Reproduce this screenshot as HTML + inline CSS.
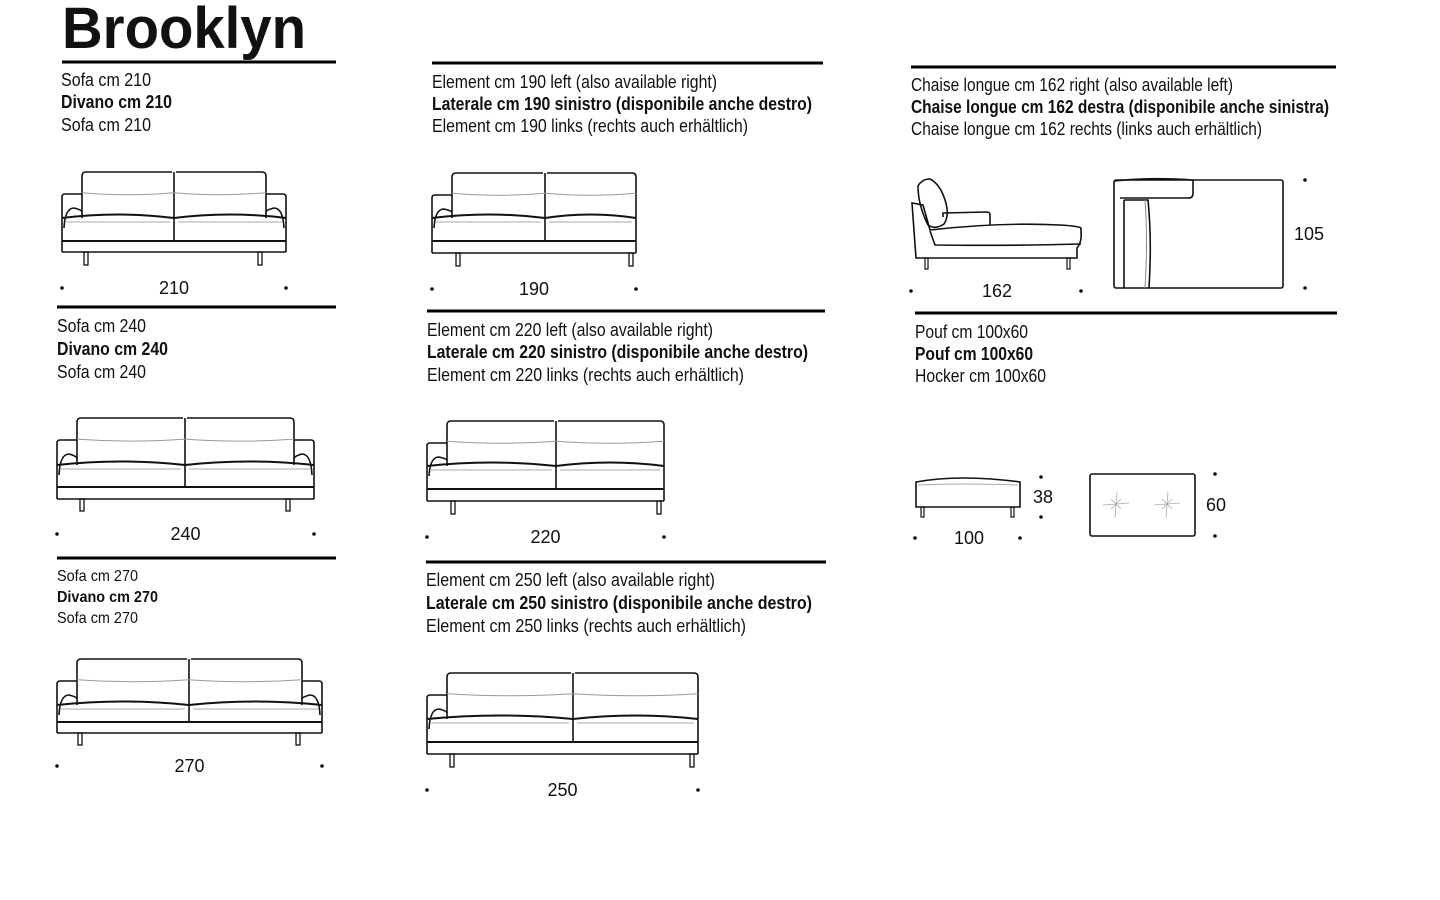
<!DOCTYPE html>
<html><head><meta charset="utf-8"><style>
html,body{margin:0;padding:0;background:#fff;width:1440px;height:900px;overflow:hidden}
svg{display:block}
text{font-family:"Liberation Sans Narrow","Liberation Sans",sans-serif;fill:#111}
</style></head><body>
<svg id="s" width="1440" height="900" viewBox="0 0 1440 900" xmlns="http://www.w3.org/2000/svg">
<text x="62" y="48" font-size="58" font-weight="bold" font-family="Liberation Sans" textLength="244" lengthAdjust="spacingAndGlyphs">Brooklyn</text>
<g stroke="#000" stroke-width="3">
<line x1="62" y1="62" x2="336" y2="62"/>
<line x1="57" y1="307" x2="336" y2="307"/>
<line x1="57" y1="558" x2="336" y2="558"/>
<line x1="432" y1="63" x2="823" y2="63"/>
<line x1="427" y1="311" x2="825" y2="311"/>
<line x1="426" y1="562" x2="826" y2="562"/>
<line x1="911" y1="67" x2="1336" y2="67"/>
<line x1="915" y1="313" x2="1337" y2="313"/>
</g>
<g id="txt"></g>
<g id="dr" fill="none" stroke="#111" stroke-width="1.6"></g>
</svg>
<script>
const NS="http://www.w3.org/2000/svg";
const T=document.getElementById('txt'),D=document.getElementById('dr');
function t(x,y,w,s,b,str,sz){const e=document.createElementNS(NS,'text');e.setAttribute('x',x);e.setAttribute('y',y);e.setAttribute('font-size',sz||18);if(w){e.setAttribute('textLength',w);e.setAttribute('lengthAdjust','spacingAndGlyphs');}if(b)e.setAttribute('font-weight','bold');e.textContent=str;T.appendChild(e);}
function tri(x,ys,ws,lines,sz){for(let i=0;i<3;i++)t(x,ys[i],ws[i],0,i==1,lines[i],sz);}
tri(61,[86,108,131],[90,111,90],["Sofa cm 210","Divano cm 210","Sofa cm 210"]);
tri(57,[332,355,378],[89,111,89],["Sofa cm 240","Divano cm 240","Sofa cm 240"]);
tri(57,[581,602,623],[81,101,81],["Sofa cm 270","Divano cm 270","Sofa cm 270"],16);
tri(432,[88,110,132],[285,380,316],["Element cm 190 left (also available right)","Laterale cm 190 sinistro (disponibile anche destro)","Element cm 190 links (rechts auch erhältlich)"]);
tri(427,[336,358,381],[286,381,317],["Element cm 220 left (also available right)","Laterale cm 220 sinistro (disponibile anche destro)","Element cm 220 links (rechts auch erhältlich)"]);
tri(426,[586,609,632],[289,386,320],["Element cm 250 left (also available right)","Laterale cm 250 sinistro (disponibile anche destro)","Element cm 250 links (rechts auch erhältlich)"]);
tri(911,[91,113,135],[322,418,351],["Chaise longue cm 162 right (also available left)","Chaise longue cm 162 destra (disponibile anche sinistra)","Chaise longue cm 162 rechts (links auch erhältlich)"]);
tri(915,[338,360,382],[113,118,131],["Pouf cm 100x60","Pouf cm 100x60","Hocker cm 100x60"]);
function el(n,a){const e=document.createElementNS(NS,n);for(const k in a)e.setAttribute(k,a[k]);D.appendChild(e);return e;}
function P(d,extra){return el('path',Object.assign({d:d},extra||{}));}
function dot(x,y){el('circle',{cx:x,cy:y,r:1.8,fill:'#111',stroke:'none'});}
function lab(x,y,s){t(x,y,0,0,0,s,18);T.lastChild.setAttribute('text-anchor','middle');}
function sofa(L,R,top,seatTop,baseTop,baseBot,legBot,lx1,lx2,div,armL,armR,dy,label){
 const aw=20, bl=armL?L+aw:L, br=armR?R-aw:R, at=top+22;
 // back cushions
 P(`M${bl} ${seatTop} L${bl} ${top+4} Q${bl} ${top} ${bl+4} ${top} L${div-2} ${top} M${div+2} ${top} L${br-4} ${top} Q${br} ${top} ${br} ${top+4} L${br} ${seatTop}`);
 P(`M${div} ${top} L${div} ${baseTop}`);
 // tufting line
 const ty=top+(seatTop-top)*0.45;
 P(`M${bl} ${ty} Q${(bl+div)/2} ${ty+4} ${div} ${ty} Q${(div+br)/2} ${ty+4} ${br} ${ty}`,{stroke:'#999','stroke-width':1});
 // arms
 if(armL){P(`M${L} ${baseBot} L${L} ${at+3} Q${L} ${at} ${L+3} ${at} L${bl} ${at}`);P(`M${L+2} ${seatTop+10} Q${L+3} ${at+14} ${L+12} ${at+14} Q${bl} ${at+16} ${bl} ${seatTop-6}`);}
 else {P(`M${L} ${seatTop} L${L} ${baseBot}`);}
 if(armR){P(`M${R} ${baseBot} L${R} ${at+3} Q${R} ${at} ${R-3} ${at} L${br} ${at}`);P(`M${R-2} ${seatTop+10} Q${R-3} ${at+14} ${R-12} ${at+14} Q${br} ${at+16} ${br} ${seatTop-6}`);}
 else {P(`M${R} ${seatTop} L${R} ${baseBot}`);}
 // seat cushions
 P(`M${L} ${seatTop} Q${(L+div)/2} ${seatTop-7} ${div} ${seatTop} Q${(div+R)/2} ${seatTop-7} ${R} ${seatTop}`,{'stroke-width':2});
 P(`M${L+4} ${seatTop+4} L${div-4} ${seatTop+4} M${div+4} ${seatTop+4} L${R-4} ${seatTop+4}`,{stroke:'#aaa','stroke-width':1});
 P(`M${L} ${baseTop} L${R} ${baseTop}`,{'stroke-width':2});
 P(`M${L} ${baseBot} L${R} ${baseBot}`);
 for(const lx of [lx1,lx2]) el('rect',{x:lx-2,y:baseBot,width:4,height:legBot-baseBot,'stroke-width':1.3});
 dot(L,dy);dot(R,dy);lab((L+R)/2,dy+6,label);
}
sofa(62,286,172,218,241,252,265,86,260,174,1,1,288,"210");
sofa(57,314,418,465,487,499,511,82,288,185,1,1,534,"240");
sofa(57,322,659,705,722,733,745,80,298,189,1,1,766,"270");
sofa(432,636,173,218,241,253,266,458,631,545,1,0,289,"190");
sofa(427,664,421,466,489,501,514,453,659,556,1,0,537,"220");
sofa(427,698,673,719,742,754,767,452,692,573,1,0,790,"250");
// chaise side
P("M912 203 L916 258 L1077 258 L1077 248 Q1082 242 1081 232 L1081 228 Q1078 226 1060 225 Q1000 222 930 230 L923 205 L912 203 Z");
P("M930 231 L935 245 Q1000 246 1081 244");
P("M918 186 Q922 179 930 179 Q940 184 945 200 Q950 215 944 224 Q935 230 928 225 Q918 205 918 186 Z");
P("M943 217 L943 213 L987 212 Q990 212 990 215 L990 225");
el('rect',{x:925,y:258,width:3,height:11,'stroke-width':1.2});el('rect',{x:1067,y:258,width:3,height:11,'stroke-width':1.2});
dot(911,291);dot(1081,291);lab(997,297,"162");
// chaise top
el('rect',{x:1114,y:180,width:169,height:108,rx:2});
P("M1114 181 Q1150 177 1193 180 L1193 193 Q1193 198 1189 198 L1120 198");
P("M1124 200 L1148 200 Q1152 240 1149 288 M1124 200 L1124 288");
P("M1145 200 Q1148 240 1145 288",{stroke:'#888','stroke-width':1});
dot(1305,180);dot(1305,288);t(1294,240,0,0,0,"105",18);
// pouf side
P("M916 507 L916 482 Q960 474 1020 482 L1020 507 Z");
P("M918 485 Q960 483 1018 485",{stroke:'#aaa','stroke-width':1});
el('rect',{x:921,y:507,width:3,height:10,'stroke-width':1.2});el('rect',{x:1011,y:507,width:3,height:10,'stroke-width':1.2});
dot(1041,477);dot(1041,517);lab(1043,503,"38");
dot(915,538);dot(1020,538);lab(969,544,"100");
// pouf top
el('rect',{x:1090,y:474,width:105,height:62,rx:2});
for(const cx of [1116,1167]){P(`M${cx-13} ${505} L${cx+13} ${503} M${cx+1} ${492} L${cx-1} ${518} M${cx-5} ${499} L${cx+5} ${509} M${cx+5} ${499} L${cx-5} ${509}`,{stroke:'#aaa','stroke-width':0.8});}
dot(1215,474);dot(1215,536);lab(1216,511,"60");
</script>
</body></html>
